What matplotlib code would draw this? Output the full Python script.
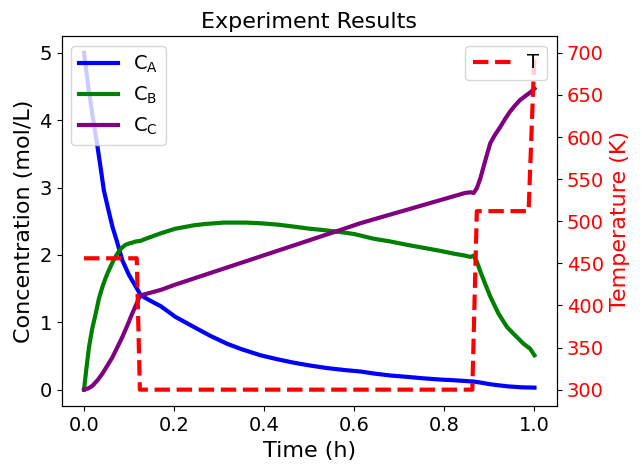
import matplotlib
matplotlib.use("Agg")
import matplotlib.pyplot as plt

# Concentration data
t_A = [0.0, 0.01, 0.02, 0.0275, 0.035, 0.044, 0.053, 0.063, 0.074, 0.085, 0.1, 0.115, 0.126,
       0.15, 0.17, 0.203, 0.244, 0.28, 0.318, 0.35, 0.392, 0.43, 0.466, 0.5, 0.54, 0.58, 0.613,
       0.643, 0.68, 0.717, 0.75, 0.791, 0.82, 0.865, 0.885, 0.902, 0.92, 0.939, 0.97, 1.0]
C_A = [5.0, 4.47, 4.02, 3.71, 3.38, 2.96, 2.70, 2.42, 2.18, 1.92, 1.70, 1.53, 1.40,
       1.31, 1.24, 1.08, 0.93, 0.80, 0.68, 0.60, 0.51, 0.45, 0.40, 0.36, 0.32, 0.29, 0.27,
       0.24, 0.21, 0.19, 0.17, 0.15, 0.14, 0.12, 0.10, 0.08, 0.065, 0.05, 0.035, 0.03]

t_B = [0.0, 0.005, 0.011, 0.018, 0.026, 0.033, 0.041, 0.048, 0.055, 0.064, 0.074, 0.083, 0.092,
       0.1, 0.106, 0.115, 0.126, 0.137, 0.17, 0.203, 0.22, 0.244, 0.27, 0.29, 0.31, 0.34, 0.36,
       0.392, 0.43, 0.466, 0.5, 0.53, 0.569, 0.6, 0.643, 0.68, 0.717, 0.75, 0.791, 0.82, 0.846,
       0.858, 0.865, 0.872, 0.88, 0.89, 0.902, 0.92, 0.939, 0.955, 0.976, 0.99, 1.0]
C_B = [0.0, 0.30, 0.63, 0.90, 1.13, 1.35, 1.53, 1.66, 1.77, 1.90, 2.02, 2.10, 2.15,
       2.17, 2.18, 2.20, 2.21, 2.24, 2.32, 2.39, 2.41, 2.44, 2.46, 2.47, 2.48, 2.48, 2.48,
       2.47, 2.45, 2.42, 2.39, 2.37, 2.34, 2.31, 2.24, 2.20, 2.15, 2.11, 2.06, 2.02, 1.99,
       1.97, 1.99, 1.90, 1.75, 1.58, 1.38, 1.13, 0.93, 0.82, 0.68, 0.61, 0.51]

t_C = [0.0, 0.01, 0.019, 0.03, 0.041, 0.052, 0.063, 0.074, 0.085, 0.096, 0.107, 0.115, 0.122,
       0.126, 0.17, 0.203, 0.569, 0.613, 0.846, 0.858, 0.865, 0.872, 0.88, 0.887, 0.895, 0.902,
       0.913, 0.924, 0.935, 0.946, 0.957, 0.968, 0.98, 0.99, 1.0]
C_C = [0.0, 0.02, 0.06, 0.14, 0.24, 0.36, 0.48, 0.63, 0.78, 0.95, 1.13, 1.25, 1.36,
       1.40, 1.48, 1.56, 2.37, 2.47, 2.92, 2.93, 2.92, 2.99, 3.14, 3.31, 3.50, 3.66,
       3.79, 3.90, 4.02, 4.13, 4.22, 4.30, 4.36, 4.41, 4.47]

# Temperature data
t_T = [0.0, 0.117, 0.124, 0.862, 0.872, 0.987, 1.0]
T_K = [456, 456, 300, 300, 512, 512, 700]

fig, ax1 = plt.subplots(figsize=(6.42, 4.73), dpi=100)
fig.subplots_adjust(left=0.0958, right=0.8676, top=0.9239, bottom=0.1406)

ax1.plot(t_A, C_A, color='blue', lw=3, label='C$_{\\mathrm{A}}$')
ax1.plot(t_B, C_B, color='green', lw=3, label='C$_{\\mathrm{B}}$')
ax1.plot(t_C, C_C, color='purple', lw=3, label='C$_{\\mathrm{C}}$')
ax1.set_xlabel('Time (h)', fontsize=16)
ax1.set_ylabel('Concentration (mol/L)', fontsize=16)
ax1.tick_params(labelsize=14)
ax1.set_title('Experiment Results', fontsize=16)
ax1.legend(loc='upper left', fontsize=14)

ax2 = ax1.twinx()
ax2.plot(t_T, T_K, color='red', lw=3, ls='--', label='T')
ax2.set_ylabel('Temperature (K)', fontsize=16, color='red')
ax2.tick_params(axis='y', labelsize=14, labelcolor='red')
ax2.legend(loc='upper right', fontsize=14)

fig.savefig('out.png', dpi=100)
